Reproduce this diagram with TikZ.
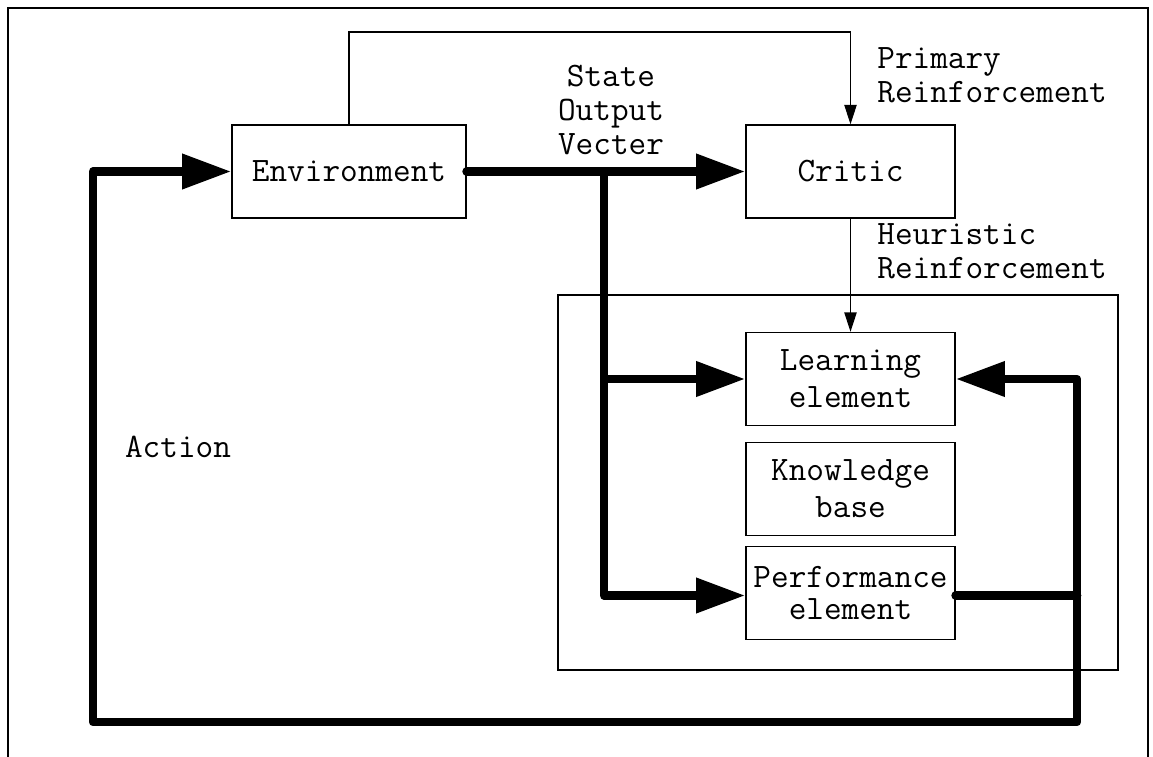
\documentclass[tikz,border=0pt]{standalone}
\usepackage{fontspec}
\usetikzlibrary{arrows.meta}

\begin{document}
\begin{tikzpicture}[x=0.02cm,y=-0.02cm,
  font=\ttfamily\fontsize{19.5}{21}\selectfont,
  block/.style={draw,line width=0.8pt,minimum width=4.18cm,minimum height=1.86cm,align=center,inner sep=0pt},
  lbl/.style={inner sep=0pt,font=\ttfamily\fontsize{19.5}{19.3}\selectfont},
  heavy/.style={line width=5pt,line join=round,line cap=round},
  heavyarrow/.style={heavy,-{Triangle[length=28pt,width=19pt]}},
  thinarrow/.style={line width=0.6pt,-{Triangle[length=11pt,width=7pt]}}]
\useasboundingbox (0,0) rectangle (1153,757);

% frames
\draw[line width=1pt] (8,757) -- (8,8) -- (1148,8) -- (1148,757);
\draw[line width=0.6pt] (558,295) rectangle (1118,670);

% blocks
\node[block,minimum width=4.68cm] (env) at (349,171.5) {Environment};
\node[block] (critic) at (850.5,171.5) {Critic};
\node[block] (learn) at (850.5,379) {Learning\\element};
\node[block] (know) at (850.5,489) {Knowledge\\base};
\node[block,font=\ttfamily\fontsize{19.5}{18.5}\selectfont] (perf) at (850.5,593) {Performance\\element};

% labels
\node[lbl,align=center] (state) at (611,110) {State\\Output\\Vecter};
\node[lbl,align=left,anchor=north west] (prim) at (877,47) {Primary\\Reinforcement};
\node[lbl,align=left,anchor=north west] (heur) at (877,223) {Heuristic\\Reinforcement};
\node[lbl] (action) at (178,447) {Action};

% helper points
\coordinate (top) at (600,32);
\coordinate (split) at (604,171.5);
\coordinate (jr) at (1077,595.5);
\coordinate (bl) at (93,722);

% thin connectors
\draw[thinarrow] (env.north) |- (top) -| (critic.north);
\draw[thinarrow] (critic.south) -- (learn.north);

% heavy connectors
\draw[heavyarrow] (env.east) -- (critic.west);
\draw[heavyarrow] (split) |- (learn.west);
\draw[heavyarrow] (split) |- (perf.west |- jr);
\draw[heavy] (perf.east |- jr) -- (jr);
\draw[heavyarrow] (jr) |- (learn.east);
\draw[heavyarrow] (jr) |- (bl) |- (env.west);

\end{tikzpicture}
\end{document}
